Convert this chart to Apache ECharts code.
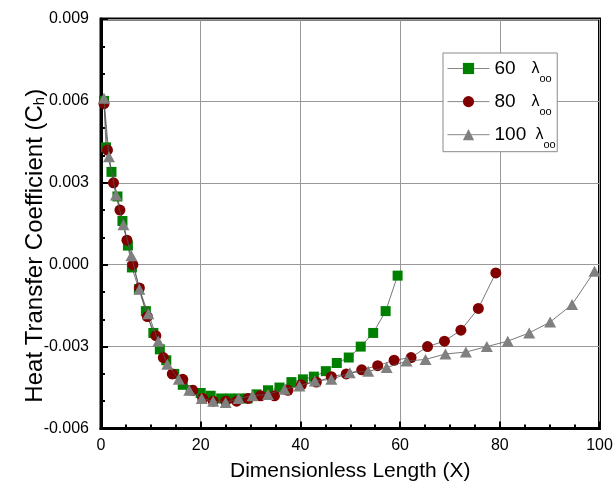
<!DOCTYPE html>
<html>
<head>
<meta charset="utf-8">
<script src="https://cdn.jsdelivr.net/npm/echarts@6/dist/echarts.min.js"></script>
<style>
html,body{margin:0;padding:0;background:#fff;}
#c{width:616px;height:497px;}
</style>
</head>
<body>
<div id="c"></div>
<script>
// ---- data ----
const seriesNames = ['60', '80', '100'];
const xTicks = [0, 20, 40, 60, 80, 100];
const yTicks = [-0.006, -0.003, 0.000, 0.003, 0.006, 0.009];

const x60 = [0.6, 1.0, 2.1, 3.3, 4.3, 5.4, 6.2, 7.6, 9.0, 10.5, 11.8, 13.1, 14.7, 16.4, 18.0, 20.0,
  22.0, 24.1, 25.9, 27.7, 29.4, 31.2, 33.5, 35.8, 38.2, 40.5, 42.7, 45.1, 47.3, 49.7, 52.1, 54.6, 57.1, 59.5];
const c60 = [0.0060, 0.0043, 0.0034, 0.0025, 0.0016, 0.0007, -0.0001, -0.0009, -0.0017, -0.0025, -0.0031,
  -0.0035, -0.0040, -0.0044, -0.0046, -0.0047, -0.0048, -0.0049, -0.0049, -0.0049, -0.0049, -0.00475,
  -0.0046, -0.0045, -0.0043, -0.0042, -0.0041, -0.0039, -0.0036, -0.0034, -0.0030, -0.0025, -0.0017, -0.0004];

const x80 = [0.6, 1.3, 2.5, 3.8, 5.2, 6.4, 7.7, 9.3, 11.0, 12.5, 14.3, 16.4, 18.4, 20.4, 22.5, 25.0,
  27.2, 29.5, 32.0, 34.8, 37.5, 40.2, 43.2, 46.2, 49.2, 52.3, 55.5, 58.8, 62.2, 65.5, 68.9, 72.2, 75.7, 79.2];
const c80 = [0.0059, 0.0042, 0.0030, 0.0020, 0.0009, 0.0000, -0.00085, -0.0019, -0.0026, -0.0034, -0.0040,
  -0.0042, -0.0046, -0.0049, -0.0050, -0.0050, -0.0050, -0.0049, -0.0048, -0.0048, -0.0046, -0.0044,
  -0.0043, -0.0041, -0.0040, -0.00385, -0.0037, -0.0035, -0.0034, -0.0030, -0.0028, -0.0024, -0.0016, -0.0003];

const x100 = [0.6, 1.6, 3.0, 4.5, 6.1, 7.7, 9.5, 11.5, 13.3, 15.6, 17.7, 20.2, 22.5, 25.0, 27.6, 30.4,
  33.5, 36.8, 39.8, 42.9, 46.2, 49.9, 53.6, 57.3, 61.3, 65.1, 69.1, 73.2, 77.4, 81.6, 85.9, 90.1, 94.5, 99.0];
const c100 = [0.0061, 0.00395, 0.00255, 0.00146, 0.00033, -0.0009, -0.0018, -0.0028, -0.00365, -0.0042,
  -0.0046, -0.0049, -0.0050, -0.00505, -0.0049, -0.0048, -0.00475, -0.00456, -0.00444, -0.00426, -0.0042,
  -0.00396, -0.0039, -0.00377, -0.00353, -0.00347, -0.00327, -0.0032, -0.0030, -0.0028, -0.0025, -0.0021,
  -0.00146, -0.00024];

function pairs(xs, ys) { return xs.map((x, i) => [x, ys[i]]); }

const FONT = 'Arial, "Liberation Sans", sans-serif';
const lineStyle = { color: '#555', width: 0.8 };

const chart = echarts.init(document.getElementById('c'), null, { renderer: 'canvas' });
chart.setOption({
  animation: false,
  backgroundColor: '#fff',
  grid: {
    left: 101, top: 19, width: 498.5, height: 409.5,
    show: true, borderColor: '#000', borderWidth: 3, backgroundColor: 'transparent'
  },
  legend: {
    orient: 'vertical',
    left: 443, top: 53,
    padding: [6, 1.5, 1, 4],
    itemWidth: 42, itemHeight: 14, itemGap: 7.6,
    backgroundColor: '#fff', borderColor: '#8a8a8a', borderWidth: 1,
    lineStyle: { color: '#888', width: 1 },
    data: seriesNames,
    formatter: function (name) {
      return (name === '100' ? '{m|' : '{n|') + name + '}{l|λ}{s|oo}';
    },
    textStyle: {
      fontFamily: FONT, color: '#000',
      rich: {
        n: { fontSize: 19, width: 37, lineHeight: 32, fontFamily: FONT, color: '#000' },
        m: { fontSize: 19, width: 41, lineHeight: 32, fontFamily: FONT, color: '#000' },
        l: { fontSize: 16, lineHeight: 32, fontFamily: FONT, color: '#000' },
        s: { fontSize: 11, lineHeight: 6, verticalAlign: 'bottom', fontFamily: FONT, color: '#000' }
      }
    }
  },
  xAxis: {
    type: 'value', min: xTicks[0], max: xTicks[xTicks.length - 1], interval: 20,
    name: 'Dimensionless Length (X)', nameLocation: 'middle', nameGap: 32,
    nameTextStyle: { fontFamily: FONT, fontSize: 21, color: '#000' },
    axisLine: { show: true, onZero: false, lineStyle: { color: '#000', width: 3 } },
    axisTick: { show: true, inside: true, length: 7, lineStyle: { color: '#000', width: 2 } },
    minorTick: { show: true, splitNumber: 4, length: 4, lineStyle: { color: '#000', width: 2 } },
    axisLabel: { fontFamily: FONT, fontSize: 16, color: '#000', margin: 9 },
    splitLine: { show: true, lineStyle: { color: '#999', width: 1 } }
  },
  yAxis: {
    type: 'value', min: yTicks[0], max: yTicks[yTicks.length - 1], interval: 0.003,
    name: 'Heat Transfer Coefficient (C{sub|h})', nameLocation: 'middle', nameGap: 54,
    nameMoveOverlap: false,
    nameTextStyle: {
      fontFamily: FONT, fontSize: 24, color: '#000', padding: [0, 44, 0, 0],
      rich: { sub: { fontSize: 15, verticalAlign: 'bottom', lineHeight: 6, fontFamily: FONT, color: '#000' } }
    },
    axisLine: { show: true, onZero: false, lineStyle: { color: '#000', width: 3 } },
    axisTick: { show: true, inside: true, length: 7, lineStyle: { color: '#000', width: 2 } },
    minorTick: { show: true, splitNumber: 3, length: 4, lineStyle: { color: '#000', width: 2 } },
    axisLabel: {
      fontFamily: FONT, fontSize: 16, color: '#000', margin: 12,
      formatter: function (v) { if (Math.abs(v) < 1e-9) v = 0; return v.toFixed(3); }
    },
    splitLine: { show: true, lineStyle: { color: '#999', width: 1 } }
  },
  series: [
    {
      name: seriesNames[0], type: 'line', data: pairs(x60, c60),
      symbol: 'rect', symbolSize: 10, showAllSymbol: true,
      itemStyle: { color: '#008000' }, lineStyle: lineStyle, z: 2
    },
    {
      name: seriesNames[1], type: 'line', data: pairs(x80, c80),
      symbol: 'circle', symbolSize: 11, showAllSymbol: true,
      itemStyle: { color: '#800000' }, lineStyle: lineStyle, z: 3
    },
    {
      name: seriesNames[2], type: 'line', data: pairs(x100, c100),
      symbol: 'triangle', symbolSize: [12, 11], showAllSymbol: true,
      itemStyle: { color: '#808080' }, lineStyle: lineStyle, z: 4
    }
  ]
});
</script>
</body>
</html>
